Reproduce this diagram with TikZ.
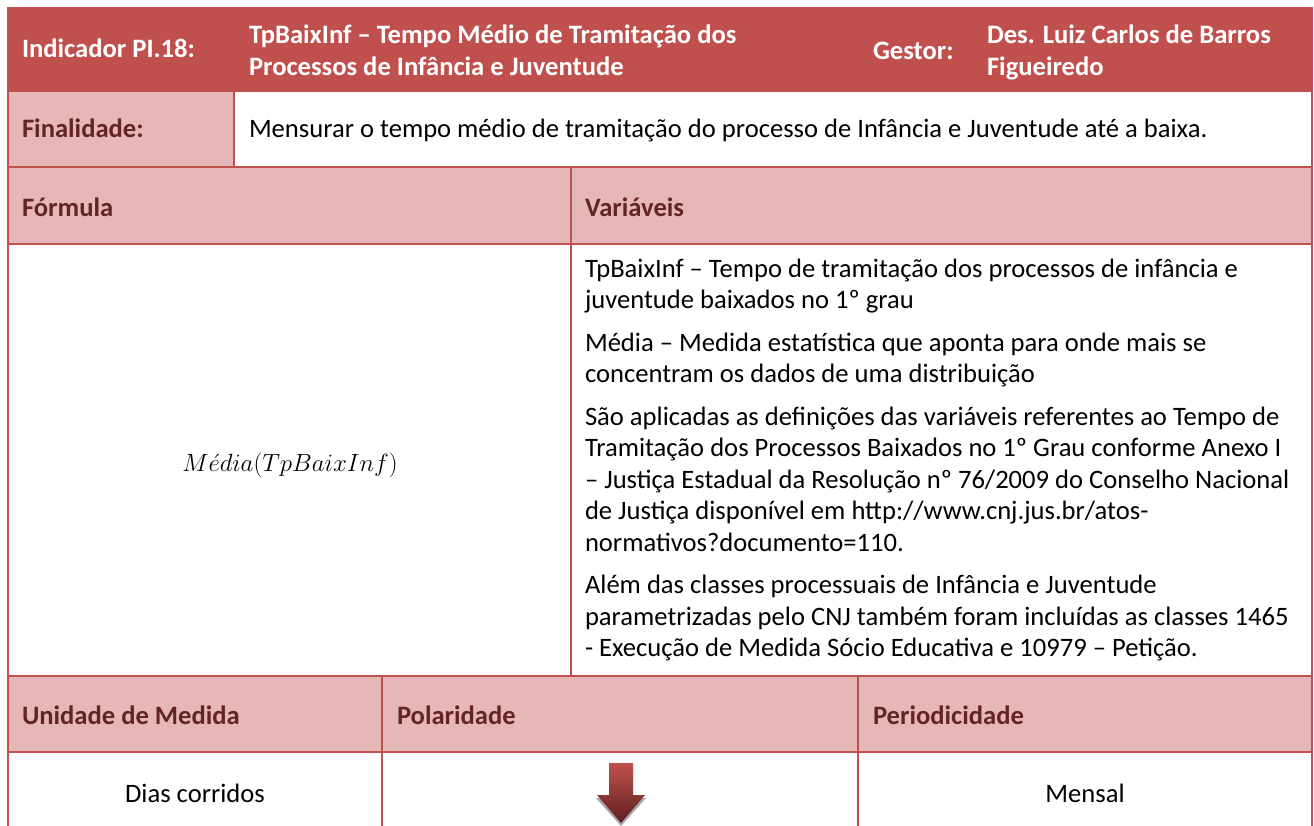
\documentclass[tikz,border=0pt]{standalone}
\usepackage{fontspec}
\setmainfont{Carlito}
\definecolor{hdr}{HTML}{C0504D}
\definecolor{lightc}{HTML}{E5B8B7}
\definecolor{darkc}{HTML}{632523}
\definecolor{arrowdark}{HTML}{5E1F1E}
\begin{document}
\begin{tikzpicture}[x=1pt,y=-1pt,
  every node/.style={inner sep=0pt, outer sep=0pt},
  hdrtext/.style={font=\fontsize{26.6}{32}\selectfont\bfseries, text=white, align=left},
  labtext/.style={font=\fontsize{26.6}{32}\selectfont\bfseries, text=darkc},
  bodytext/.style={font=\fontsize{26.6}{31.5}\selectfont, text=black, align=left},
  gridline/.style={draw=hdr, line width=2pt}]
\useasboundingbox (0,0) rectangle (1314,825);
\fill[white] (0,0) rectangle (1314,825);
% fills
\fill[hdr] (7,7) rectangle (1313,91);
\fill[lightc] (8,91) rectangle (234,167);
\fill[lightc] (8,167) rectangle (1312,244);
\fill[lightc] (8,676) rectangle (1312,752);
% grid
\draw[gridline] (8,91) -- (1312,91);
\draw[gridline] (8,167) -- (1312,167);
\draw[gridline] (8,244) -- (1312,244);
\draw[gridline] (8,676) -- (1312,676);
\draw[gridline] (8,752) -- (1312,752);
\draw[gridline] (8,7) -- (8,826);
\draw[gridline] (1312,7) -- (1312,826);
\draw[gridline] (234,91) -- (234,167);
\draw[gridline] (571,167) -- (571,676);
\draw[gridline] (382,676) -- (382,826);
\draw[gridline] (858,676) -- (858,826);
% header (base anchor = last line baseline)
\node[hdrtext, anchor=base west] (ind) at (22,57.5) {Indicador PI.18:};
\node[hdrtext, anchor=base west] (tit) at (249,75.5) {TpBaixInf – Tempo Médio de Tramitação dos\\Processos de Infância e Juventude};
\node[hdrtext, anchor=base west] (ges) at (873,59.5) {Gestor:};
\node[hdrtext, anchor=base west] (gesn) at (987,75.5) {Des. Luiz Carlos de Barros\\Figueiredo};
% finalidade
\node[labtext, anchor=base west] (fin) at (22,137.5) {Finalidade:};
\node[bodytext, anchor=base west] (finv) at (249,137.5) {Mensurar o tempo médio de tramitação do processo de Infância e Juventude até a baixa.};
% formula / variaveis
\node[labtext, anchor=base west] (form) at (22,216.5) {Fórmula};
\node[labtext, anchor=base west] (vars) at (585,216.5) {Variáveis};
\node[font=\fontsize{24}{28}\selectfont] (formv) at (290,465) {$M\acute{e}dia(TpBaixInf)$};
\node[bodytext, anchor=base west] (v1) at (585,308.5) {TpBaixInf – Tempo de tramitação dos processos de infância e\\juventude baixados no 1º grau};
\node[bodytext, anchor=base west] (v2) at (585,382.5) {Média – Medida estatística que aponta para onde mais se\\concentram os dados de uma distribuição};
\node[bodytext, anchor=base west] (v3) at (585,551) {São aplicadas as definições das variáveis referentes ao Tempo de\\Tramitação dos Processos Baixados no 1º Grau conforme Anexo I\\– Justiça Estadual da Resolução nº 76/2009 do Conselho Nacional\\de Justiça disponível em http://www.cnj.jus.br/atos-\\normativos?documento=110.};
\node[bodytext, anchor=base west] (v4) at (585,656.5) {Além das classes processuais de Infância e Juventude\\parametrizadas pelo CNJ também foram incluídas as classes 1465\\- Execução de Medida Sócio Educativa e 10979 – Petição.};
% bottom section
\node[labtext, anchor=base west] (uni) at (22,724.5) {Unidade de Medida};
\node[labtext, anchor=base west] (pol) at (397,724.5) {Polaridade};
\node[labtext, anchor=base west] (per) at (873,724.5) {Periodicidade};
\node[bodytext, anchor=base] (univ) at (195,802.5) {Dias corridos};
\node[bodytext, anchor=base] (perv) at (1085,802.5) {Mensal};
% polarity arrow
\fill[black!35] (609,766) -- (633,766) -- (633,798) -- (646,798) -- (621,826) -- (596,798) -- (609,798) -- cycle;
\shade[top color=hdr, bottom color=arrowdark] (609,763) -- (633,763) -- (633,795) -- (645,795) -- (621,823) -- (597,795) -- (609,795) -- cycle;
\end{tikzpicture}
\end{document}
